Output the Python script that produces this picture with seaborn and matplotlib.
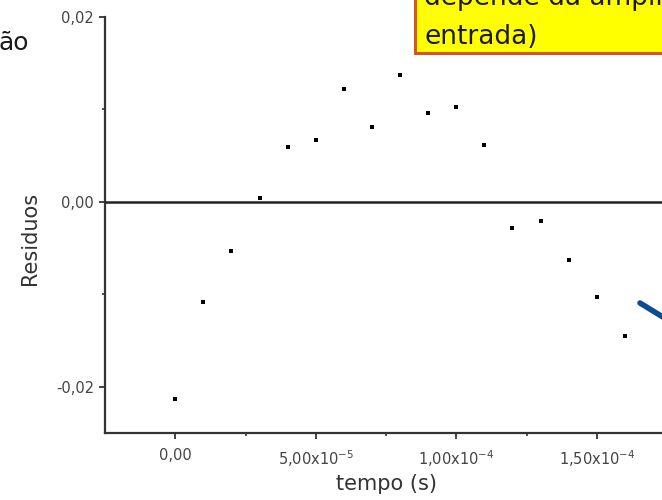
import matplotlib
matplotlib.use("Agg")
import matplotlib.pyplot as plt
from matplotlib.patches import Rectangle
from matplotlib.lines import Line2D
import seaborn as sns
import pandas as pd

# ---- data ----
tempo = [0.0, 1e-5, 2e-5, 3e-5, 4e-5, 5e-5, 6e-5, 7e-5, 8e-5, 9e-5,
         1.0e-4, 1.1e-4, 1.2e-4, 1.3e-4, 1.4e-4, 1.5e-4, 1.6e-4]
residuos = [-0.0213, -0.0108, -0.0053, 0.0004, 0.0059, 0.0067, 0.0122,
            0.0081, 0.0137, 0.0096, 0.0103, 0.0062, -0.0028, -0.0021,
            -0.0063, -0.0103, -0.0145]

x_ticks = [0.0, 5e-5, 1e-4, 1.5e-4]
x_tick_labels = ["0,00", r"5,00x10$^{-5}$", r"1,00x10$^{-4}$", r"1,50x10$^{-4}$"]
x_minor = [2.5e-5, 7.5e-5, 1.25e-4]
y_ticks = [-0.02, 0.0, 0.02]
y_tick_labels = ["-0,02", "0,00", "0,02"]
y_minor = [-0.01, 0.01]

x_label = "tempo (s)"
y_label = "Residuos"
box_line1 = "depende da amplitude de"
box_line2 = "entrada)"
left_fragment = "ão"

df = pd.DataFrame({"tempo": tempo, "residuos": residuos})

sns.set_style("ticks")
plt.rcParams["font.family"] = ["DejaVu Sans"]

W, H = 662, 500
fig = plt.figure(figsize=(W / 100, H / 100), dpi=100)
fig.patch.set_facecolor("white")

def fx(px):
    return px / W

def fy(py):
    return 1 - py / H

ax_left, ax_right, ax_top, ax_bottom = 105, 667, 17, 433
ax = fig.add_axes([fx(ax_left), fy(ax_bottom), (ax_right - ax_left) / W,
                   (ax_bottom - ax_top) / H])

sns.scatterplot(data=df, x="tempo", y="residuos", ax=ax, color="black",
                marker="s", s=9, linewidth=0, zorder=5)

ax.axhline(0, color="#222222", lw=1.8, zorder=3)

ax.set_xlim(-2.5e-5, 1.75e-4)
ax.set_ylim(-0.025, 0.02)

ax.set_xticks(x_ticks, labels=x_tick_labels)
ax.set_xticks(x_minor, minor=True)
ax.set_yticks(y_ticks, labels=y_tick_labels)
ax.set_yticks(y_minor, minor=True)

for s in ["top", "right"]:
    ax.spines[s].set_visible(False)
for s in ["left", "bottom"]:
    ax.spines[s].set_color("#333333")
    ax.spines[s].set_linewidth(1.6)

ax.tick_params(axis="both", which="major", direction="out", length=4,
               width=1.3, color="#333333", labelsize=10.5, labelcolor="#444444")
ax.tick_params(axis="both", which="minor", direction="out", length=2.5,
               width=1.2, color="#333333")
ax.tick_params(axis="x", which="major", pad=7)
ax.tick_params(axis="y", which="major", pad=4)

ax.set_xlabel(x_label, fontsize=15, color="#333333")
ax.set_ylabel(y_label, fontsize=15, color="#333333")
ax.xaxis.set_label_coords((386 - ax_left) / (ax_right - ax_left),
                          (ax_bottom - 474) / (ax_bottom - ax_top))
ax.yaxis.set_label_coords((40 - ax_left) / (ax_right - ax_left),
                          (ax_bottom - 238) / (ax_bottom - ax_top))
ax.set_facecolor("white")

# yellow annotation box (cut by the top-right corner)
box = Rectangle((fx(415), fy(53)), fx(400), 0.3, transform=fig.transFigure,
                facecolor="#ffff00", edgecolor="#d9531e", lw=2.2,
                zorder=10, clip_on=False)
fig.patches.append(box)
fig.text(fx(424), fy(5), box_line1, fontsize=19, color="#1a1a1a",
         ha="left", va="baseline", zorder=11)
fig.text(fx(424), fy(44), box_line2, fontsize=19, color="#1a1a1a",
         ha="left", va="baseline", zorder=11)

# fragment of another slide text on the left
fig.text(fx(29), fy(50), left_fragment, fontsize=18, color="#1a1a1a",
         ha="right", va="baseline")

# blue arrow shaft entering from the right
arrow = Line2D([fx(640), fx(720)], [fy(303), fy(352)], transform=fig.transFigure,
               color="#0b4c94", lw=4, solid_capstyle="round", zorder=12)
fig.lines.append(arrow)

fig.savefig("out.png", dpi=100)
